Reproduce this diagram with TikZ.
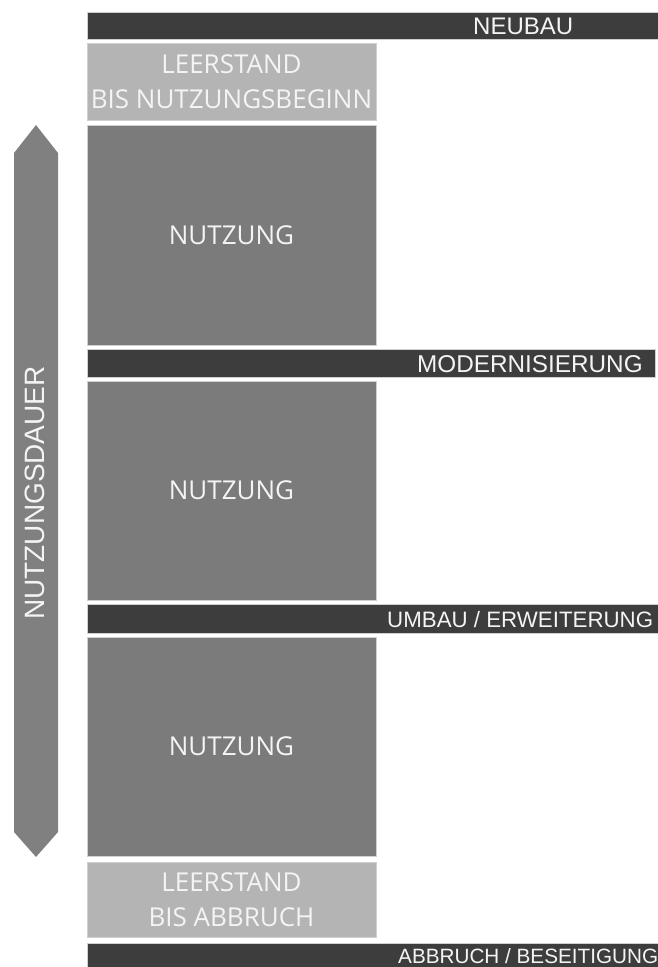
\documentclass[tikz,border=0pt]{standalone}
\usepackage{fontspec}
\setmainfont{Liberation Sans}
\newfontfamily\boxfont{Open Sans}
\definecolor{bardark}{HTML}{3D3D3D}
\definecolor{usegray}{HTML}{7B7B7B}
\definecolor{arrowgray}{HTML}{808080}
\definecolor{emptygray}{HTML}{B4B4B4}
\definecolor{edgegray}{HTML}{D0D0D0}
\definecolor{txt}{HTML}{F4F4F4}
\begin{document}
\begin{tikzpicture}[x=1pt,y=-1pt,
  barbox/.style={fill=bardark,draw=edgegray,line width=0.6pt},
  usebox/.style={fill=usegray,draw=edgegray,line width=0.6pt},
  emptybox/.style={fill=emptygray,draw=edgegray,line width=0.6pt},
  boxtext/.style={text=txt,font=\boxfont\fontsize{26}{35}\selectfont,align=center,inner sep=0pt},
  bartext/.style={text=txt,anchor=base west,inner sep=0pt}
]
\useasboundingbox (0,0) rectangle (658,967);
\fill[white] (0,0) rectangle (658,967);
% arrow
\path[fill=arrowgray] (14,153) -- (36,125) -- (58,153) -- (58,832) -- (36,857) -- (14,832) -- cycle;
\node[rotate=90,anchor=base,inner sep=0pt,text=txt,font=\fontsize{28}{30}\selectfont] (dauer) at (45,493) {NUTZUNGSDAUER};
% bars
\path[barbox] (87,12) rectangle (659,39) coordinate (b1);
\node[bartext,font=\fontsize{24}{26}\selectfont] (neubau) at (473,34) {NEUBAU};
\path[barbox] (87,349) rectangle (655,377) coordinate (b2);
\node[bartext,font=\fontsize{24.3}{26}\selectfont] (modern) at (417,372) {MODERNISIERUNG};
\path[barbox] (87,604) rectangle (659,633) coordinate (b3);
\node[bartext,font=\fontsize{22.3}{24}\selectfont] (umbau) at (387,627) {UMBAU / ERWEITERUNG};
\path[barbox] (87,943) rectangle (660,968) coordinate (b4);
\node[bartext,font=\fontsize{20.7}{22}\selectfont] (abbruch) at (398,963) {ABBRUCH / BESEITIGUNG};
% boxes
\path[emptybox] (87,43) rectangle (376,120);
\node[boxtext] (leer1) at (231.5,82) {LEERSTAND\\BIS NUTZUNGSBEGINN};
\path[usebox] (87,125) rectangle (376,345);
\node[boxtext] (nutz1) at (231.5,235) {NUTZUNG};
\path[usebox] (87,381) rectangle (376,600);
\node[boxtext] (nutz2) at (231.5,490) {NUTZUNG};
\path[usebox] (87,637) rectangle (376,856);
\node[boxtext] (nutz3) at (231.5,746) {NUTZUNG};
\path[emptybox] (87,862) rectangle (376,937);
\node[boxtext] (leer2) at (231.5,900) {LEERSTAND\\BIS ABBRUCH};
\end{tikzpicture}
\end{document}
